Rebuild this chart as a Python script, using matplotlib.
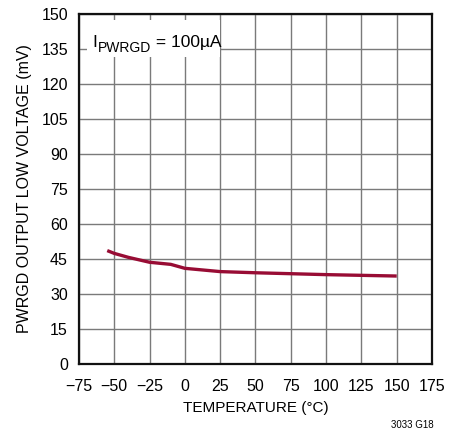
import matplotlib
matplotlib.use('Agg')

import matplotlib.pyplot as plt
from matplotlib.patches import Rectangle
from matplotlib.transforms import IdentityTransform

# PWRGD output low voltage vs temperature, I = 100uA
temp_c = [-55, -50, -40, -25, -10, 0, 25, 50, 75, 100, 125, 150]
vol_mv = [48.6, 47.4, 45.7, 43.6, 42.7, 41.0, 39.6, 39.1, 38.7, 38.3, 38.0, 37.7]

x_ticks = [-75, -50, -25, 0, 25, 50, 75, 100, 125, 150, 175]
y_ticks = [0, 15, 30, 45, 60, 75, 90, 105, 120, 135, 150]

plt.rcParams['font.family'] = ['Liberation Sans Narrow', 'Liberation Sans', 'DejaVu Sans']

W, H = 460, 434
fig = plt.figure(figsize=(W / 100, H / 100), dpi=100)
ax = fig.add_axes([79 / W, 1 - 364 / H, 353 / W, 350 / H])

ax.plot(temp_c, vol_mv, color='#980C34', lw=2.4, solid_capstyle='butt', zorder=5)

ax.set_xlim(-75, 175)
ax.set_ylim(0, 150)
ax.set_xticks(x_ticks)
ax.set_yticks(y_ticks)
ax.set_xticklabels([str(t).replace('-', '\u2212') for t in x_ticks])
ax.grid(True, color='#7a7a7a', lw=1.0)
ax.set_axisbelow(True)
ax.tick_params(length=0, labelsize=11.5)
ax.tick_params(axis='x', pad=11)
ax.tick_params(axis='y', pad=8)
for s in ax.spines.values():
    s.set_linewidth(1.6)
    s.set_color('#111111')
    s.set_zorder(6)

ax.set_xlabel('TEMPERATURE (\u00b0C)', fontsize=11, labelpad=5)
ax.set_ylabel('PWRGD OUTPUT LOW VOLTAGE (mV)', fontsize=11.5, labelpad=7)

# white label box hiding the grid (pixel coords, origin bottom-left)
pix = IdentityTransform()
fig.patches.append(Rectangle((87, H - 57), 133, 37, transform=pix,
                             facecolor='white', edgecolor='none', zorder=3))
fig.patches[-1].set_figure(fig)

# I_PWRGD = 100uA, built from pieces so the subscript keeps its size
base_y = H - 47
t1 = fig.text(92, base_y, 'I', fontsize=12.5, transform=pix, va='baseline', zorder=4)
fig.canvas.draw()
r = fig.canvas.get_renderer()
x1 = t1.get_window_extent(r).x1 + 1
t2 = fig.text(x1, base_y - 5, 'PWRGD', fontsize=10, transform=pix, va='baseline', zorder=4)
fig.canvas.draw()
x2 = t2.get_window_extent(r).x1
fig.text(x2, base_y, ' = 100\u00b5A', fontsize=12.5, transform=pix, va='baseline', zorder=4)

fig.text(412 / W, 1 - 425 / H, '3033 G18', fontsize=7, ha='center', va='center')

fig.savefig('out.png', dpi=100)
